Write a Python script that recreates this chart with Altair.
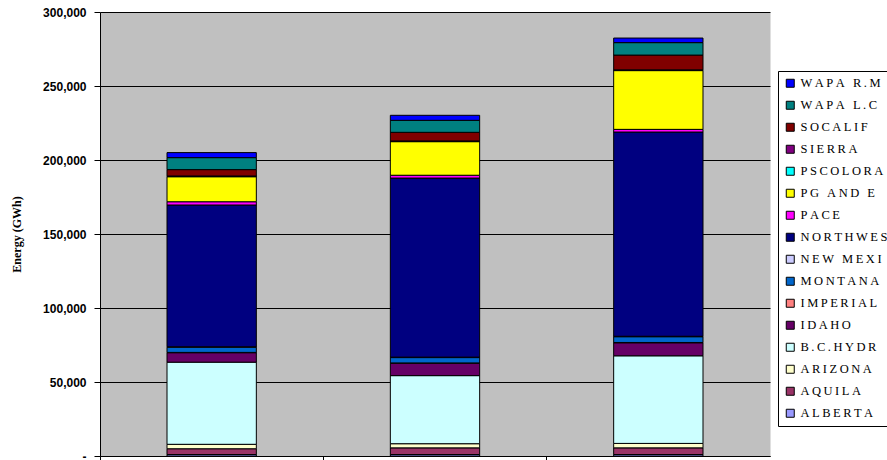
import altair as alt
import pandas as pd

# Study periods (x categories, labels not shown on the axis)
periods = ["Period 1", "Period 2", "Period 3"]

# Regions, bottom of the stack first
regions = [
    "ALBERTA", "AQUILA", "ARIZONA", "B.C.HYDR", "IDAHO", "IMPERIAL",
    "MONTANA", "NEW MEXI", "NORTHWES", "PACE", "PG AND E", "PSCOLORA",
    "SIERRA", "SOCALIF", "WAPA L.C", "WAPA R.M",
]

colors = [
    "#9999FF", "#993366", "#FFFFCC", "#CCFFFF", "#660066", "#FF8080",
    "#0066CC", "#CCCCFF", "#000080", "#FF00FF", "#FFFF00", "#00FFFF",
    "#800080", "#800000", "#008080", "#0000FF",
]

# Energy (GWh) per region, one list per period, same order as `regions`
period1 = [1000, 3900, 3000, 55500, 6400, 200, 3500, 300, 95800,
           2200, 16900, 200, 300, 4300, 8100, 3400]
period2 = [1000, 4500, 2800, 46000, 8400, 200, 3600, 300, 121000,
           1900, 22700, 200, 300, 5800, 8100, 3400]
period3 = [1000, 4500, 3000, 59200, 8800, 200, 3900, 300, 138000,
           1800, 39700, 200, 300, 10000, 8400, 3100]

rows = []
for p, vals in zip(periods, [period1, period2, period3]):
    for i, (r, v) in enumerate(zip(regions, vals)):
        rows.append({"period": p, "region": r, "value": v, "idx": i})
df = pd.DataFrame(rows)

legend_order = regions[::-1]
legend_colors = colors[::-1]

chart = (
    alt.Chart(df)
    .mark_bar(width=alt.RelativeBandSize(0.4), stroke="black", strokeWidth=1)
    .encode(
        x=alt.X(
            "period:N",
            sort=periods,
            scale=alt.Scale(paddingInner=0, paddingOuter=0),
            axis=alt.Axis(
                labels=False, title=None, bandPosition=0, grid=False,
                tickColor="black", domainColor="black", tickSize=6,
            ),
        ),
        y=alt.Y(
            "value:Q",
            stack="zero",
            scale=alt.Scale(domain=[0, 300000], nice=False),
            axis=alt.Axis(
                values=[0, 50000, 100000, 150000, 200000, 250000, 300000],
                labelExpr="datum.value == 0 ? '-\u00a0\u00a0\u00a0\u00a0' : format(datum.value, ',')",
                labelFont="Liberation Sans", labelFontSize=12, labelFontWeight="bold",
                labelColor="black", labelPadding=8,
                tickSize=6, tickColor="black", domainColor="black",
                gridColor="black", gridWidth=1, gridOpacity=1,
                title="Energy (GWh)", titleFont="Liberation Serif",
                titleFontSize=12, titleFontWeight="bold", titleColor="black",
                titlePadding=19,
            ),
        ),
        color=alt.Color(
            "region:N",
            scale=alt.Scale(domain=legend_order, range=legend_colors),
            legend=alt.Legend(
                title=None, orient="none", legendX=678, legendY=59,
                padding=6, strokeColor="black", fillColor="white",
                symbolType="square", symbolSize=64,
                symbolStrokeColor="black", symbolStrokeWidth=1,
                labelFont="Liberation Serif", labelFontSize=12.5,
                labelColor="black", labelOffset=4, labelLimit=300,
                rowPadding=9,
                # widely tracked lettering
                labelExpr="join(split(datum.label, ''), '\u2009')",
            ),
        ),
        order=alt.Order("idx:Q", sort="ascending"),
    )
    .properties(
        width=670,
        height=444,
        background="white",
        autosize=alt.AutoSizeParams(type="none"),
        padding={"left": 100, "top": 12, "right": 117, "bottom": 4},
    )
    .configure_view(fill="#C0C0C0", stroke="transparent")
)

chart.save("out.html", embed_options={"renderer": "svg", "actions": False})
